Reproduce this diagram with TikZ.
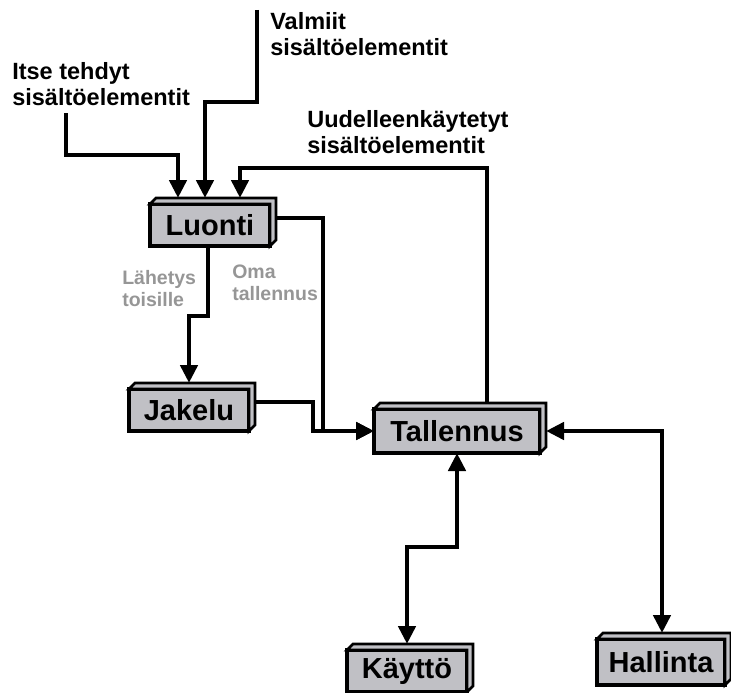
\documentclass[tikz,border=0pt]{standalone}
\usepackage{fontspec}
\setmainfont{Liberation Sans}
\usetikzlibrary{arrows.meta, positioning}
\definecolor{boxgray}{RGB}{192,192,197}
\definecolor{notegray}{RGB}{150,150,150}

\begin{document}
\begin{tikzpicture}[x=1pt,y=-1pt,>={Triangle[width=17pt,length=18pt]},
      line width=4.6pt,
      stage/.style={draw,fill=boxgray,line width=4.6pt,inner sep=0pt,outer sep=0pt,
        minimum width=#1,minimum height=42pt,font=\fontsize{29}{32}\selectfont\bfseries},
      stage/.default=120pt,
      rim/.style={fill=boxgray,draw=black,line width=2.8pt,line join=miter},
      source/.style={anchor=north west,inner sep=0pt,align=left,
        font=\fontsize{23.5}{26}\selectfont\bfseries},
      note/.style={anchor=north west,inner sep=0pt,align=left,text=notegray,
        font=\fontsize{19.5}{22}\selectfont\bfseries}]

      \useasboundingbox (0,0) rectangle (731,693);

      % stages
      \node[stage] (luonti) at (210,225) {Luonti};
      \node[stage] (jakelu) at (189,410) {Jakelu};
      \node[stage=166pt,minimum height=44pt] (tallennus) at (457,431) {Tallennus};
      \node[stage] (kaytto) at (407,671) {Käyttö};
      \node[stage=128pt,minimum height=46pt] (hallinta) at (661,662) {Hallinta};

      % box depth
      \foreach \n in {luonti,jakelu,tallennus,kaytto,hallinta}
          \filldraw[rim] (\n.north west) -- ++(6,-6) -- ([shift={(6,-6)}]\n.north east)
              -- ([shift={(6,-6)}]\n.south east) -- (\n.south east) -- (\n.north east) -- cycle;

      % texts
      \node[source] (itselbl) at (10,60) {Itse tehdyt\\sisältöelementit};
      \node[source] (valmiitlbl) at (268,10) {Valmiit\\sisältöelementit};
      \node[source] (uudlbl) at (305,108) {Uudelleenkäytetyt\\sisältöelementit};
      \node[note] (lahetys) at (120,268) {Lähetys\\toisille};
      \node[note] (oma) at (230,263) {Oma\\tallennus};

      \coordinate (itse) at (66,113);
      \coordinate (valmiit) at (257,10);

      % flows
      \draw[->] (itse) -- ++(0,42) -| ([xshift=-32pt,yshift=6pt]luonti.north);
      \draw[->] (valmiit) -- ++(0,92) -| ([xshift=-5pt,yshift=6pt]luonti.north);
      \draw[->] ([xshift=30pt,yshift=6pt]tallennus.north) -- ++(0,-235)
          -| ([xshift=30pt,yshift=6pt]luonti.north);
      \draw[->] ([xshift=-2pt]luonti.south) -- ++(0,70) -| ([yshift=6pt]jakelu.north);
      \draw[->] ([xshift=6pt,yshift=7pt]luonti.east) -| ([xshift=-51pt]tallennus.west)
          -- (tallennus.west);
      \draw[->] ([xshift=6pt,yshift=8pt]jakelu.east) -| ([xshift=-61pt]tallennus.west)
          -- (tallennus.west);
      \draw[<->] (tallennus.south) -- ++(0,94) -| ([yshift=6pt]kaytto.north);
      \draw[<->] ([xshift=6pt]tallennus.east) -| ([xshift=1pt,yshift=6pt]hallinta.north);
\end{tikzpicture}
\end{document}
